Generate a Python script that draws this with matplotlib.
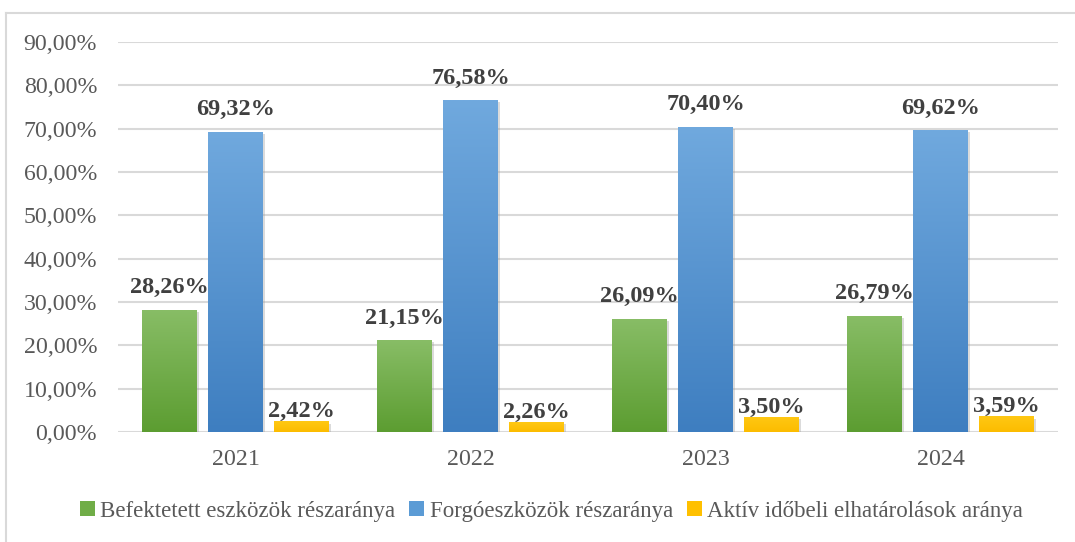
import numpy as np
import matplotlib.pyplot as plt
from matplotlib.patches import Patch
from matplotlib.colors import LinearSegmentedColormap
import matplotlib.patheffects as pe

years = ["2021", "2022", "2023", "2024"]
befektetett = [28.26, 21.15, 26.09, 26.79]
forgo = [69.32, 76.58, 70.40, 69.62]
aktiv = [2.42, 2.26, 3.50, 3.59]
series_names = ["Befektetett eszközök részaránya",
                "Forgóeszközök részaránya",
                "Aktív időbeli elhatárolások aránya"]

plt.rcParams['font.family'] = ['Liberation Serif', 'DejaVu Serif']

fig = plt.figure(figsize=(10.75, 5.42), dpi=100)
ax = fig.add_axes([0.1098, 0.203, 0.8744, 0.7195])

# (top colour, bottom colour) of each series' gradient
grads = [("#88bd66", "#5c9d31"), ("#70a9de", "#3e7ec0"), ("#ffc814", "#fcbc00")]
legend_cols = ["#70ad47", "#5b9bd5", "#ffc000"]
label_offsets = [12, 12, 3]  # points between bar top and label baseline

x = np.arange(len(years))
width = 0.234
step = 0.281

for i, vals in enumerate([befektetett, forgo, aktiv]):
    xs = x + (i - 1) * step
    bars = ax.bar(xs, vals, width, color=legend_cols[i], zorder=3,
                  path_effects=[pe.SimplePatchShadow(offset=(1.5, -1.5), shadow_rgbFace="#9a9a9a", alpha=0.35),
                                pe.Normal()])
    cmap = LinearSegmentedColormap.from_list("g%d" % i, [grads[i][1], grads[i][0]])
    grad = np.linspace(0, 1, 256).reshape(-1, 1)
    for b, v in zip(bars, vals):
        im = ax.imshow(grad, cmap=cmap, origin="lower", aspect="auto",
                       extent=(b.get_x(), b.get_x() + b.get_width(), 0, v), zorder=4)
        im.set_clip_path(b)
        ax.annotate(("%.2f%%" % v).replace(".", ","), (b.get_x() + b.get_width() / 2, v),
                    xytext=(0, label_offsets[i]), textcoords="offset points", ha="center", va="baseline",
                    fontsize=17.5, fontweight="bold", color="#404040", zorder=5)

ax.set_xlim(-0.5, 3.5)
ax.set_ylim(0, 90)
ax.set_yticks(np.arange(0, 91, 10))
ax.set_yticklabels([("%.2f%%" % t).replace(".", ",") for t in np.arange(0, 91, 10)])
ax.set_xticks(x)
ax.set_xticklabels(years)
ax.tick_params(axis="y", length=0, pad=15, labelsize=17.2, labelcolor="#595959")
ax.tick_params(axis="x", length=0, pad=12, labelsize=17.2, labelcolor="#595959")
ax.grid(axis="y", color="#d9d9d9", linewidth=1.5, zorder=0)
ax.set_axisbelow(True)
for s in ax.spines.values():
    s.set_visible(False)

handles = [Patch(facecolor=c, edgecolor="none") for c in legend_cols]
fig.legend(handles, series_names, loc="center", bbox_to_anchor=(0.513, 0.057), ncol=3,
           frameon=False, fontsize=16.5, labelcolor="#595959",
           handlelength=0.65, handleheight=0.65, handletextpad=0.25, columnspacing=0.6)

# outer chart frame (top and left edges visible in the crop)
fig.add_artist(plt.Line2D([6 / 1075, 1], [1 - 13 / 542, 1 - 13 / 542], color="#d9d9d9", linewidth=1.5,
                          transform=fig.transFigure))
fig.add_artist(plt.Line2D([6 / 1075, 6 / 1075], [0, 1 - 13 / 542], color="#d9d9d9", linewidth=1.5,
                          transform=fig.transFigure))

fig.savefig("out.png", dpi=100)
